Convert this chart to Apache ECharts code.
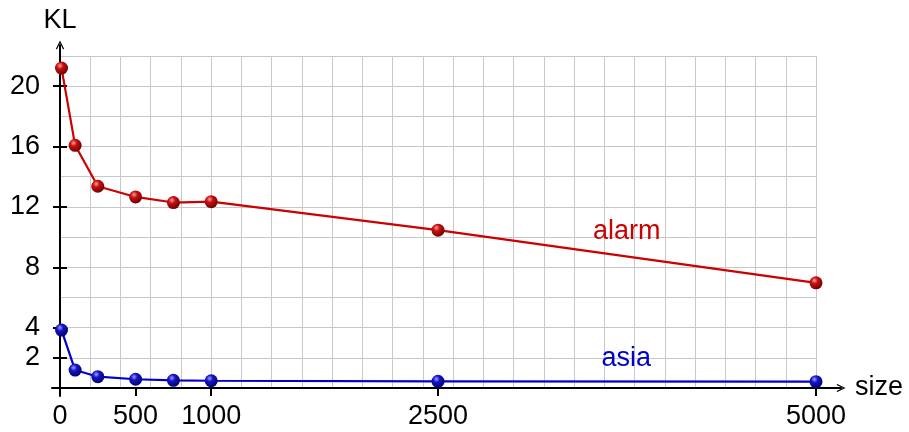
<!DOCTYPE html>
<html>
<head>
<meta charset="utf-8">
<script src="https://cdn.jsdelivr.net/npm/echarts@6/dist/echarts.min.js"></script>
<style>
  html, body { margin: 0; padding: 0; background: #fff; }
  #chart { width: 909px; height: 432px; }
</style>
</head>
<body>
<div id="chart"></div>
<script>
// sample size vs KL divergence
const sizes = [10, 100, 250, 500, 750, 1000, 2500, 5000]
const alarmKL = [21.2, 16.08, 13.37, 12.66, 12.29, 12.35, 10.46, 6.97]
const asiaKL = [3.84, 1.19, 0.75, 0.58, 0.51, 0.48, 0.44, 0.42]
const xTickLabels = [0, 500, 1000, 2500, 5000]
const yTickLabels = [2, 4, 8, 12, 16, 20]

const FONT = 'Liberation Sans, Arial, sans-serif'
const FS = 27
const RED = '#cc0000'
const BLUE = '#0000cc'
const GRID_GRAY = '#c8c8c8'
// open chevron arrow head, tip pointing up
const ARROW = 'path://M0,10 L5,0 L10,10 L8.8,11 L5,3 L1.2,11 Z'

function ball(light, mid, dark) {
  return new echarts.graphic.RadialGradient(0.38, 0.32, 0.72, [
    { offset: 0, color: light },
    { offset: 0.35, color: mid },
    { offset: 1, color: dark }
  ])
}

function toPairs(xs, ys) {
  return xs.map((x, i) => [x, ys[i]])
}

const chart = echarts.init(document.getElementById('chart'))

const hidden = { show: false }

chart.setOption({
  animation: false,
  textStyle: { fontFamily: FONT },
  grid: [
    { left: 60, right: 93, top: 56, bottom: 44 },   // plot area
    { left: 52, right: 68, top: 56, bottom: 44 },   // x axis line with arrow
    { left: 60, right: 93, top: 45, bottom: 36 }    // y axis line with arrow
  ],
  xAxis: [
    {
      gridIndex: 0, type: 'value', position: 'bottom', offset: 0,
      min: 0, max: 5000, interval: 200,
      axisLine: hidden, axisTick: hidden, axisLabel: hidden,
      splitLine: { show: true, lineStyle: { color: GRID_GRAY, width: 1 } }
    },
    {
      gridIndex: 0, type: 'value', position: 'bottom', offset: 0,
      min: 0, max: 5000,
      axisLine: hidden, splitLine: hidden,
      axisTick: {
        show: true, length: 8, customValues: xTickLabels,
        lineStyle: { color: '#000', width: 2 }
      },
      axisLabel: {
        show: true, customValues: xTickLabels, margin: 15,
        formatter: (v) => String(v),
        color: '#000', fontSize: FS, fontFamily: FONT
      }
    },
    {
      gridIndex: 1, type: 'value', position: 'bottom', min: 0, max: 1,
      axisLine: {
        show: true, symbol: ['none', ARROW], symbolSize: [14, 9],
        lineStyle: { color: '#000', width: 2 }
      },
      axisTick: hidden, axisLabel: hidden, splitLine: hidden,
      name: 'size', nameLocation: 'end', nameGap: 14,
      nameTextStyle: { color: '#000', fontSize: FS, fontFamily: FONT }
    },
    { gridIndex: 2, type: 'value', show: false }
  ],
  yAxis: [
    {
      gridIndex: 0, type: 'value', position: 'left', offset: 0,
      min: 0, max: 22, interval: 2,
      axisLine: hidden, axisTick: hidden, axisLabel: hidden,
      splitLine: { show: true, lineStyle: { color: GRID_GRAY, width: 1 } }
    },
    {
      gridIndex: 0, type: 'value', position: 'left', offset: 0,
      min: 0, max: 22,
      axisLine: hidden, splitLine: hidden,
      axisTick: {
        show: true, length: 7, customValues: yTickLabels,
        lineStyle: { color: '#000', width: 2 }
      },
      axisLabel: {
        show: true, customValues: yTickLabels, margin: 20,
        color: '#000', fontSize: FS, fontFamily: FONT
      }
    },
    {
      gridIndex: 0, type: 'value', position: 'left', offset: 0,
      min: 0, max: 22,
      axisLine: hidden, splitLine: hidden, axisLabel: hidden,
      axisTick: {
        show: true, inside: true, length: 7, customValues: yTickLabels,
        lineStyle: { color: '#000', width: 2 }
      }
    },
    { gridIndex: 1, type: 'value', show: false },
    {
      gridIndex: 2, type: 'value', position: 'left', min: 0, max: 1,
      axisLine: {
        show: true, symbol: ['none', ARROW], symbolSize: [14, 9],
        lineStyle: { color: '#000', width: 2 }
      },
      axisTick: hidden, axisLabel: hidden, splitLine: hidden,
      name: 'KL', nameLocation: 'end', nameGap: 11,
      nameTextStyle: { color: '#000', fontSize: FS, fontFamily: FONT, align: 'center' }
    }
  ],
  series: [
    {
      name: 'alarm', type: 'line', xAxisIndex: 1, yAxisIndex: 1,
      data: toPairs(sizes, alarmKL),
      symbol: 'circle', symbolSize: 13,
      lineStyle: { color: RED, width: 2.2 },
      itemStyle: { color: ball('#ff9c9c', '#c81010', '#6a0000') },
      markPoint: {
        symbol: 'circle', symbolSize: 0,
        label: { show: true, position: 'inside', formatter: 'alarm', color: RED, fontSize: FS, fontFamily: FONT },
        data: [{ coord: [3748, 10.4] }]
      },
      z: 3
    },
    {
      name: 'asia', type: 'line', xAxisIndex: 1, yAxisIndex: 1,
      data: toPairs(sizes, asiaKL),
      symbol: 'circle', symbolSize: 13,
      lineStyle: { color: BLUE, width: 2.2 },
      itemStyle: { color: ball('#a0a0ff', '#1414c8', '#00006a') },
      markPoint: {
        symbol: 'circle', symbolSize: 0,
        label: { show: true, position: 'inside', formatter: 'asia', color: BLUE, fontSize: FS, fontFamily: FONT },
        data: [{ coord: [3745, 1.93] }]
      },
      z: 3
    }
  ]
})
</script>
</body>
</html>
